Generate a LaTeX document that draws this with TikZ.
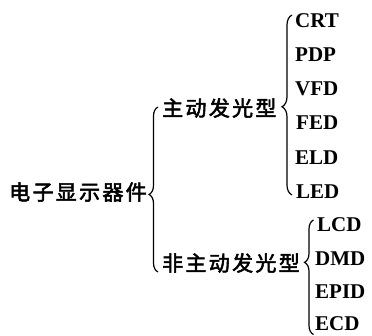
\documentclass[tikz,border=0pt]{standalone}
\usepackage{fontspec}
\setmainfont{Liberation Serif}
\newfontfamily\cjk[LetterSpace=11,FakeBold=2.5]{Noto Sans CJK SC}
\usetikzlibrary{decorations.pathreplacing}
\begin{document}
\begin{tikzpicture}[x=1pt,y=-1pt,
  cn/.style={inner sep=0pt,anchor=west,font=\cjk\fontsize{21pt}{21pt}\selectfont},
  leaf/.style={inner sep=0pt,anchor=base west,font=\bfseries\fontsize{21pt}{21pt}\selectfont},
  br/.style={line width=1.2pt,decorate,decoration={brace,amplitude=#1}},
  br/.default=10pt]
\useasboundingbox (0,0) rectangle (372,336);
% category nodes
\node[cn] (root) at (9,192) {电子显示器件};
\node[cn] (act) at (162,108) {主动发光型};
\node[cn] (pas) at (162,263) {非主动发光型};
% leaves
\node[leaf] (crt) at (295,27.3) {CRT};
\node[leaf] (pdp) at (295,61.5) {PDP};
\node[leaf] (vfd) at (295,95.7) {VFD};
\node[leaf] (fed) at (296,129.9) {FED};
\node[leaf] (eld) at (295,164.1) {ELD};
\node[leaf] (led) at (296,198.3) {LED};
\node[leaf] (lcd) at (317,232) {LCD};
\node[leaf] (dmd) at (315,265.5) {DMD};
\node[leaf] (epid) at (315,298.5) {EPID};
\node[leaf] (ecd) at (315,331) {ECD};
% brace ends
\coordinate (r0) at (158,272);
\coordinate (r1) at (158,107);
\coordinate (a0) at (292,195);
\coordinate (a1) at (292,15);
\coordinate (p0) at (313.5,334.5);
\coordinate (p1) at (313.5,220);
\draw[br=9pt,decoration={aspect=0.63}] (p0) -- (p1);
\draw[br=9pt,decoration={aspect=0.47}] (r0) -- (r1);
\draw[br=10pt,decoration={aspect=0.49}] (a0) -- (a1);
\end{tikzpicture}
\end{document}
